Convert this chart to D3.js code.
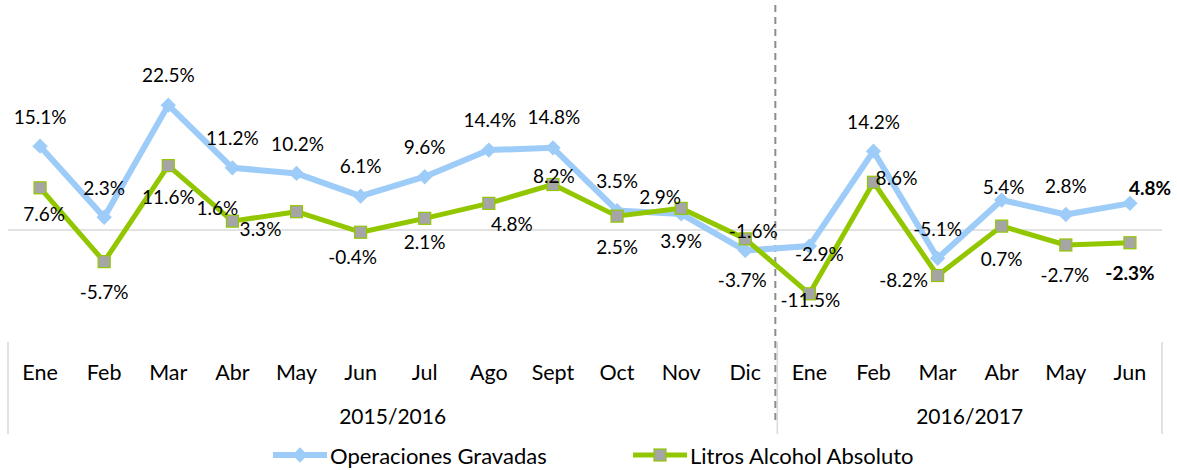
<!DOCTYPE html>
<html>
<head>
<meta charset="utf-8">
<script src="https://cdn.jsdelivr.net/npm/d3@7"></script>
<style>
  html, body { margin: 0; padding: 0; background: #fff; }
  svg { display: block; }
  text { font-family: Lato, "Open Sans", sans-serif; fill: #000; }
</style>
</head>
<body>
<svg id="chart" width="1177" height="470"></svg>
<script>
// Monthly categories and the two fiscal periods they belong to
const months = ["Ene","Feb","Mar","Abr","May","Jun","Jul","Ago","Sept","Oct","Nov","Dic",
                "Ene","Feb","Mar","Abr","May","Jun"];
const periods = ["2015/2016", "2016/2017"];
const periodLengths = [12, 6];

// Year-on-year variation (%)
const operaciones = [15.1, 2.3, 22.5, 11.2, 10.2, 6.1, 9.6, 14.4, 14.8, 3.5, 2.9, -3.7,
                     -2.9, 14.2, -5.1, 5.4, 2.8, 4.8];
const litros = [7.6, -5.7, 11.6, 1.6, 3.3, -0.4, 2.1, 4.8, 8.2, 2.5, 3.9, -1.6,
                -11.5, 8.6, -8.2, 0.7, -2.7, -2.3];

const seriesNames = ["Operaciones Gravadas", "Litros Alcohol Absoluto"];

// Hand-placed label nudges (dx, dy) relative to each point
const opLabelNudge = [[0,-30],[0,-30],[0,-31],[0,-30],[1,-30],[0,-31],[0,-30],[1,-31],[1,-31],
                      [0,-30],[-21,-17],[-3,29],[10,7],[0,-30],[0,-30],[2,-14],[0,-29],[20,-16]];
const ltLabelNudge = [[4,26],[0,30],[0,31],[-15,-14],[-36,17],[-8,24],[0,23],[23,20],[1,-9],
                      [0,30],[0,32],[8,-8],[1,6],[23,-5],[-34,4],[0,32],[-1,30],[0,30]];

const svg = d3.select("#chart");
const plotLeft = 8, plotRight = 1162, plotTop = 8, plotBottom = 341;
const axisBottom = 434;

const x = d3.scaleBand().domain(d3.range(months.length)).range([plotLeft, plotRight]);
const cx = i => x(i) + x.bandwidth() / 2;
const y = d3.scaleLinear().domain([-20, 40]).range([plotBottom, plotTop]);

const blue = "#9DCCF9";
const green = "#92C700";
const gridCol = "#D9D9D9";

// zero line
svg.append("line")
  .attr("x1", plotLeft).attr("x2", plotRight)
  .attr("y1", y(0)).attr("y2", y(0))
  .attr("stroke", gridCol).attr("stroke-width", 1.5);

// category axis group dividers
const boundaries = [0];
periodLengths.forEach((n, k) => boundaries.push(boundaries[k] + n));
svg.selectAll("line.divider").data(boundaries).enter().append("line")
  .attr("class", "divider")
  .attr("x1", d => d === months.length ? plotRight : x(d))
  .attr("x2", d => d === months.length ? plotRight : x(d))
  .attr("y1", plotBottom + 1).attr("y2", axisBottom)
  .attr("stroke", gridCol).attr("stroke-width", 1.5);

// dashed separator between the two periods
svg.append("line")
  .attr("x1", x(periodLengths[0]) - 2).attr("x2", x(periodLengths[0]) - 2)
  .attr("y1", 5).attr("y2", 421)
  .attr("stroke", "#8C8C8C").attr("stroke-width", 2)
  .attr("stroke-dasharray", "7,5");

// month labels
svg.selectAll("text.month").data(months).enter().append("text")
  .attr("class", "month")
  .attr("x", (d, i) => cx(i)).attr("y", 372)
  .attr("text-anchor", "middle").attr("dominant-baseline", "central")
  .style("font-size", "21.5px")
  .text(d => d);

// period labels
svg.selectAll("text.period").data(periods).enter().append("text")
  .attr("class", "period")
  .attr("x", (d, k) => {
    const a = x(boundaries[k]);
    const b = boundaries[k + 1] === months.length ? plotRight : x(boundaries[k + 1]);
    return (a + b) / 2;
  })
  .attr("y", 415)
  .attr("text-anchor", "middle").attr("dominant-baseline", "central")
  .style("font-size", "21px")
  .text(d => d);

const line = d3.line().x((d, i) => cx(i)).y(d => y(d));

// Operaciones Gravadas
svg.append("path").datum(operaciones)
  .attr("d", line).attr("fill", "none")
  .attr("stroke", blue).attr("stroke-width", 6).attr("stroke-linejoin", "round");
const diamond = d3.symbol().type(d3.symbolDiamond2).size(150);
svg.selectAll("path.opm").data(operaciones).enter().append("path")
  .attr("class", "opm")
  .attr("d", diamond)
  .attr("transform", (d, i) => `translate(${cx(i)},${y(d)})`)
  .attr("fill", blue);

// Litros Alcohol Absoluto
svg.append("path").datum(litros)
  .attr("d", line).attr("fill", "none")
  .attr("stroke", green).attr("stroke-width", 5).attr("stroke-linejoin", "round");
svg.selectAll("rect.ltm").data(litros).enter().append("rect")
  .attr("class", "ltm")
  .attr("x", (d, i) => cx(i) - 6).attr("y", d => y(d) - 6)
  .attr("width", 12).attr("height", 12)
  .attr("fill", "#A5A5A5").attr("stroke", green).attr("stroke-width", 1.2);

// value labels
const fmt = v => v.toFixed(1) + "%";
function labels(values, nudge, cls) {
  svg.selectAll("text." + cls).data(values).enter().append("text")
    .attr("class", cls)
    .attr("x", (d, i) => cx(i) + nudge[i][0])
    .attr("y", (d, i) => y(d) + nudge[i][1])
    .attr("text-anchor", "middle").attr("dominant-baseline", "central")
    .style("font-size", "19px")
    .style("font-weight", (d, i) => i === values.length - 1 ? "bold" : "normal")
    .text(fmt);
}
labels(operaciones, opLabelNudge, "opl");
labels(litros, ltLabelNudge, "ltl");

// legend
const legend = [
  { name: seriesNames[0], color: blue, x0: 273, width: 6, marker: "diamond" },
  { name: seriesNames[1], color: green, x0: 633, width: 5, marker: "square" }
];
const ly = 455;
legend.forEach(l => {
  const g = svg.append("g");
  g.append("line").attr("x1", l.x0).attr("x2", l.x0 + 54).attr("y1", ly).attr("y2", ly)
    .attr("stroke", l.color).attr("stroke-width", l.width);
  if (l.marker === "diamond") {
    g.append("path").attr("d", diamond).attr("transform", `translate(${l.x0 + 27},${ly})`)
      .attr("fill", l.color);
  } else {
    g.append("rect").attr("x", l.x0 + 21).attr("y", ly - 6).attr("width", 12).attr("height", 12)
      .attr("fill", "#A5A5A5").attr("stroke", l.color).attr("stroke-width", 1.2);
  }
  g.append("text").attr("x", l.x0 + 57).attr("y", ly).attr("dominant-baseline", "central")
    .style("font-size", "22px").text(l.name);
});
</script>
</body>
</html>
